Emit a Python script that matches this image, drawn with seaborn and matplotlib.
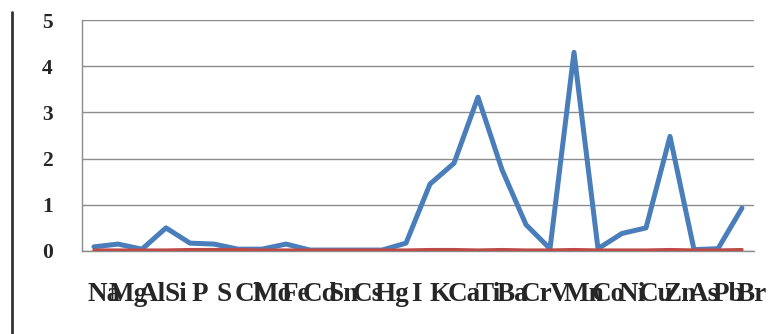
import matplotlib
matplotlib.use("Agg")
import matplotlib.pyplot as plt
import matplotlib.transforms as mtransforms
import seaborn as sns
import pandas as pd
import numpy as np
from matplotlib.lines import Line2D
from matplotlib.ticker import FixedLocator

elements = ["Na", "Mg", "Al", "Si", "P", "S", "Cl", "Mo", "Fe", "Cd", "Sn", "Cs", "Hg", "I",
            "K", "Ca", "Ti", "Ba", "Cr", "V", "Mn", "Co", "Ni", "Cu", "Zn", "As", "Pb", "Br"]
series_blue = [0.09, 0.15, 0.04, 0.50, 0.17, 0.15, 0.04, 0.04, 0.15, 0.02, 0.02, 0.02, 0.02, 0.17,
               1.45, 1.90, 3.33, 1.76, 0.57, 0.05, 4.30, 0.05, 0.38, 0.50, 2.48, 0.03, 0.05, 0.93]
series_red = [0.02, 0.02, 0.02, 0.02, 0.03, 0.03, 0.03, 0.02, 0.02, 0.02, 0.02, 0.02, 0.02, 0.02,
              0.03, 0.03, 0.02, 0.03, 0.02, 0.02, 0.03, 0.02, 0.02, 0.02, 0.03, 0.02, 0.02, 0.03]
y_ticks = [0, 1, 2, 3, 4, 5]

sns.set_style("white")
plt.rcParams['font.family'] = ['Liberation Serif', 'DejaVu Serif']

df = pd.DataFrame({
    "element": elements * 2,
    "value": series_blue + series_red,
    "series": ["A"] * len(elements) + ["B"] * len(elements),
})

fig = plt.figure(figsize=(7.72, 3.34), dpi=100)
ax = fig.add_axes([82 / 772, 1 - 251 / 334, (754 - 82) / 772, (251 - 20) / 334])

sns.lineplot(data=df, x="element", y="value", hue="series",
             palette={"A": "#4A7EBB", "B": "#BE4B48"}, legend=False, ax=ax,
             sort=False, linewidth=3.6)
lines = ax.get_lines()
if len(lines) >= 2:
    lines[1].set_linewidth(2.4)
    lines[1].set_zorder(3)
    lines[0].set_zorder(2)

ax.set_xlim(-0.5, len(elements) - 0.5)
ax.set_ylim(0, 5)
ax.set_yticks(y_ticks)
ax.set_yticklabels([str(v) for v in y_ticks], fontsize=15.5, fontweight="bold")
ax.set_xticks(range(len(elements)))
ax.set_xticklabels(elements, fontsize=19.5, fontweight="bold")
ax.xaxis.set_minor_locator(FixedLocator(np.arange(-0.5, len(elements), 1.0)))
ax.tick_params(axis="x", which="major", length=0, pad=22)
ax.tick_params(axis="x", which="minor", length=5, width=1, color="#8c8c8c", direction="out")
ax.tick_params(axis="y", which="major", length=7, width=1, color="#8c8c8c", direction="out", pad=14)
ax.set_xlabel("")
ax.set_ylabel("")
ax.grid(axis="y", color="#8c8c8c", linewidth=1)
ax.set_axisbelow(True)
for s in ["top", "right"]:
    ax.spines[s].set_visible(False)
for s in ["left", "bottom"]:
    ax.spines[s].set_color("#8c8c8c")
    ax.spines[s].set_linewidth(1)

offset = mtransforms.ScaledTranslation(10 / 100, 0, fig.dpi_scale_trans)
for lab in ax.get_xticklabels():
    lab.set_transform(lab.get_transform() + offset)

fig.add_artist(Line2D([12 / 772, 12 / 772], [0, 1 - 12 / 334], transform=fig.transFigure,
                      color="#333333", linewidth=2))

fig.savefig("out.png", dpi=100)
